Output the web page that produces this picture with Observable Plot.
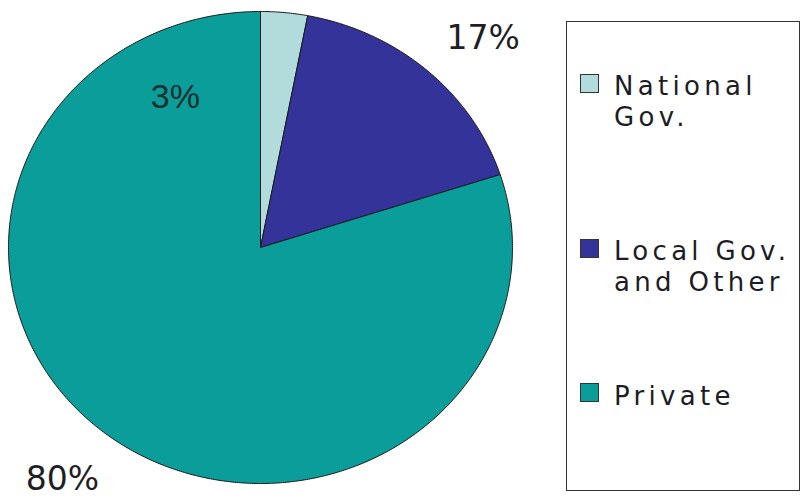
<!DOCTYPE html>
<html>
<head>
<meta charset="utf-8">
<script src="https://cdn.jsdelivr.net/npm/d3@7"></script>
<script src="https://cdn.jsdelivr.net/npm/@observablehq/plot@0.6"></script>
<style>
  html, body { margin: 0; padding: 0; background: #fff; overflow: hidden; }
  #wrap { position: relative; width: 801px; height: 500px; }
  #legend { position: absolute; left: 566px; top: 21px; width: 234px; height: 470px;
            border: 1.5px solid #333; box-sizing: border-box; }
  .item { position: absolute; left: 47px; font-family: "DejaVu Sans", sans-serif;
          font-size: 26px; line-height: 31px; letter-spacing: 4.3px; color: #1c1c24; white-space: nowrap; }
  .sw { position: absolute; left: 13px; width: 19px; height: 19px; box-sizing: border-box; border: 1px solid #333; }
</style>
</head>
<body>
<div id="wrap"></div>
<script>
// ---- data ----
const categories = ["National Gov.", "Local Gov. and Other", "Private"];
const shares = [3, 17, 80];
const labels = ["3%", "17%", "80%"];
const colors = ["#b2dcdc", "#333399", "#0b9d99"];
const legendLines = [["National", "Gov."], ["Local Gov.", "and Other"], ["Private"]];

// ---- label placement (polar, degrees clockwise from north, radius in pie units) ----
const labelAngle = [-28, 45, -141.4];
const labelRadius = [0.72, 1.25, 1.26];

// build slice polygons from the shares
const total = d3.sum(shares);
const slices = [];
let acc = 0;
shares.forEach((v, i) => {
  const a0 = acc / total * 2 * Math.PI;
  acc += v;
  const a1 = acc / total * 2 * Math.PI;
  const n = Math.max(2, Math.ceil((a1 - a0) / (Math.PI / 360)));
  slices.push({cat: categories[i], x: 0, y: 0});
  for (let k = 0; k <= n; k++) {
    const a = a0 + (a1 - a0) * k / n;
    slices.push({cat: categories[i], x: Math.sin(a), y: Math.cos(a)});
  }
  slices.push({cat: categories[i], x: 0, y: 0});
});

const labelData = labels.map((t, i) => {
  const a = labelAngle[i] * Math.PI / 180;
  return {text: t, x: labelRadius[i] * Math.sin(a), y: labelRadius[i] * Math.cos(a), i};
});

const chart = Plot.plot({
  width: 801,
  height: 500,
  marginLeft: 8,
  marginRight: 289,
  marginTop: 11,
  marginBottom: 17,
  x: {domain: [-1, 1], axis: null},
  y: {domain: [-1, 1], axis: null},
  color: {domain: categories, range: colors},
  style: {background: "#fff"},
  marks: [
    Plot.line(slices, {x: "x", y: "y", z: "cat", fill: "cat", stroke: "#1a1a1a", strokeWidth: 1, curve: "linear"}),
    Plot.text(labelData.filter(d => d.i === 0), {x: "x", y: "y", text: "text", fontSize: 34,
      fill: "#173030", fontFamily: "Liberation Sans, Arial, sans-serif"}),
    Plot.text(labelData.filter(d => d.i !== 0), {x: "x", y: "y", text: "text", fontSize: 33,
      fill: "#1e1e24", fontFamily: "DejaVu Sans, sans-serif"})
  ]
});
document.getElementById("wrap").appendChild(chart);

// legend box
const legend = document.createElement("div");
legend.id = "legend";
const swatchTop = [52, 217, 361];
const textTop = [48.5, 213.5, 358.5];
categories.forEach((c, i) => {
  const sw = document.createElement("div");
  sw.className = "sw";
  sw.style.top = swatchTop[i] + "px";
  sw.style.background = colors[i];
  legend.appendChild(sw);
  const t = document.createElement("div");
  t.className = "item";
  t.style.top = textTop[i] + "px";
  t.innerHTML = legendLines[i].join("<br>");
  legend.appendChild(t);
});
document.getElementById("wrap").appendChild(legend);
</script>
</body>
</html>
